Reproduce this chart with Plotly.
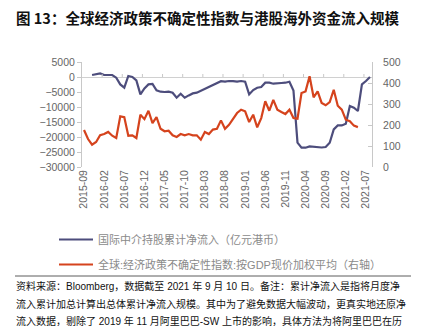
import plotly.graph_objects as go
import pandas as pd

# ---- data ----
months = [d.strftime("%Y-%m") for d in pd.date_range("2015-09-01", "2021-08-01", freq="MS")]

# cumulative net inflow (100m HKD), starts 2015-11
flow_start = "2015-11"
flow = [667, 867, 1200, 667, 667, 667, -233, -2467, -3567, 333,
        0, -1133, -5800, -3800, -2467, -2300, -4467, -4900, -5000, -4900,
        -5233, -6900, -5567, -6900, -6133, -5467, -5233, -4600, -3800, -3400,
        -2500, -1900, -1400, -1567, -1333, -1400, -1567, -1333, -1567, -5800,
        -4333, -3567, -3333, -1900, -1900, -2233, -2233, -2000, -1900, -1567,
        -4500, -21900, -23567, -23567, -23133, -23233, -23333, -23500, -23333, -21900,
        -17467, -16133, -16133, -15567, -9667, -10233, -11333, -2467, -1333, 0]

# global EPU index (GDP weighted), starts 2015-09
epu_start = "2015-09"
epu = [176, 133, 106, 119, 151, 157, 167, 149, 138, 241,
       237, 149, 151, 138, 249, 228, 268, 209, 237, 182,
       170, 173, 151, 143, 157, 151, 157, 151, 151, 130,
       167, 157, 178, 182, 222, 182, 201, 230, 257, 273,
       265, 214, 249, 189, 233, 313, 268, 320, 273, 262,
       252, 273, 233, 230, 352, 360, 432, 332, 360, 305,
       294, 309, 368, 292, 273, 225, 218, 197, 190]

tick_every = 5
name_flow = "国际中介持股累计净流入（亿元港币）"
name_epu = "全球:经济政策不确定性指数:按GDP现价加权平均（右轴）"
title = "<b>图 13：全球经济政策不确定性指数与港股海外资金流入规模</b>"
footer = [
    "资料来源：Bloomberg，数据截至 2021 年 9 月 10 日。备注：累计净流入是指将月度净",
    "流入累计加总计算出总体累计净流入规模。其中为了避免数据大幅波动，更真实地还原净",
    "流入数据，剔除了 2019 年 11 月阿里巴巴-SW 上市的影响，具体方法为将阿里巴巴在历",
]

# ---- layout geometry ----
W, H = 426, 326
L, R, T, B = 82, 372, 62, 167
pw, ph = R - L, B - T
def px(x): return (x - L) / pw
def py(y): return (B - y) / ph

BLUE = "#4d4d7c"
RED = "#d5431d"
GREY = "#666666"
FONT = "Liberation Sans, Noto Sans CJK SC, sans-serif"

idx = list(range(len(months)))
i_flow = months.index(flow_start)
i_epu = months.index(epu_start)

fig = go.Figure()
fig.add_trace(go.Scatter(x=idx[i_flow:i_flow + len(flow)], y=flow, mode="lines",
                         line=dict(color=BLUE, width=2.2), name=name_flow,
                         legendgroup="a", showlegend=True))
fig.add_trace(go.Scatter(x=idx[i_epu:i_epu + len(epu)], y=epu, mode="lines",
                         line=dict(color=RED, width=2.2), name=name_epu,
                         yaxis="y2", legendgroup="b", showlegend=True))

tickvals = idx[::tick_every]
ticktext = months[::tick_every]

shapes = []
# tick marks on the zero line (between categories)
for t in tickvals[1:]:
    shapes.append(dict(type="line", xref="x", yref="y", x0=t - 0.5, x1=t - 0.5,
                       ysizemode="pixel", yanchor=0, y0=0, y1=3,
                       line=dict(color="#c8c8c8", width=1)))
# separator line above footer
shapes.append(dict(type="line", xref="paper", yref="paper", x0=px(15), x1=px(411),
                   y0=py(276), y1=py(276), line=dict(color="#333333", width=0.8)))

annotations = [dict(text=title, x=px(14), y=py(17), xref="paper", yref="paper",
                    xanchor="left", yanchor="middle", showarrow=False,
                    font=dict(family="Noto Sans CJK SC", size=14.5, color="#111111"))]
for k, line in enumerate(footer):
    annotations.append(dict(text=line, x=px(14), y=py(286 + 17.5 * k), xref="paper", yref="paper",
                            xanchor="left", yanchor="middle", showarrow=False,
                            font=dict(family=FONT, size=10, color="#111111")))

fig.update_layout(
    width=W, height=H, margin=dict(l=L, r=W - R, t=T, b=H - B),
    paper_bgcolor="white", plot_bgcolor="white", showlegend=True,
    font=dict(family=FONT, color=GREY, size=10.5),
    xaxis=dict(range=[-0.5, len(months) - 0.5], tickvals=tickvals, ticktext=ticktext,
               tickangle=-90, showgrid=False, zeroline=False, showline=False, ticks="",
               tickfont=dict(size=10.5, color=GREY)),
    yaxis=dict(range=[-30000, 5000], dtick=5000, showgrid=False, zeroline=True,
               zerolinecolor="#d0d0d0", zerolinewidth=1, showline=True, linecolor="#c8c8c8",
               ticks="outside", ticklen=4, tickcolor="#c8c8c8", tickfont=dict(size=10.5, color=GREY),
               tickformat="d"),
    yaxis2=dict(range=[0, 500], dtick=100, overlaying="y", side="right", showgrid=False,
                zeroline=False, showline=True, linecolor="#c8c8c8", ticks="inside", ticklen=4,
                tickcolor="#c8c8c8", ticklabelstandoff=8, tickfont=dict(size=10.5, color=GREY)),
    legend=dict(x=px(54), y=py(225), xanchor="left", yanchor="top", bgcolor="rgba(0,0,0,0)",
                orientation="v", tracegroupgap=6, traceorder="grouped", itemwidth=34,
                font=dict(family=FONT, size=11, color="#8a8a8a")),
    shapes=shapes, annotations=annotations,
)

fig.write_html("out.html")
